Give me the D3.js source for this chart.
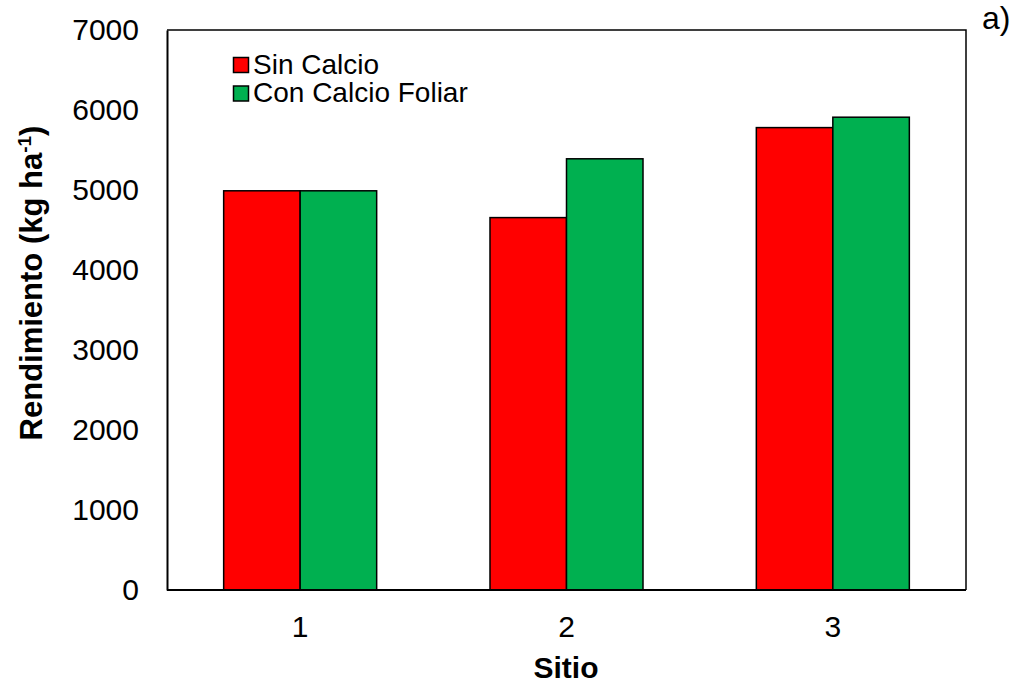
<!DOCTYPE html>
<html>
<head>
<meta charset="utf-8">
<script src="https://cdn.jsdelivr.net/npm/d3@7"></script>
<style>
  html, body { margin: 0; padding: 0; background: #ffffff; }
  svg { display: block; }
</style>
</head>
<body>
<svg id="chart" width="1017" height="685"></svg>
<script>
// ---- data ----
const sites = ["1", "2", "3"];
const seriesNames = ["Sin Calcio", "Con Calcio Foliar"];
const sinCalcio = [4990, 4655, 5780];
const conCalcio = [4990, 5390, 5910];
const yTicks = [0, 1000, 2000, 3000, 4000, 5000, 6000, 7000];
const seriesColors = ["#FF0000", "#00B050"];

const values = [sinCalcio, conCalcio];

const svg = d3.select("#chart");
const W = 1017, H = 685;
const plot = { left: 167, right: 966, top: 30, bottom: 590 };
const font = "'Liberation Sans', Arial, sans-serif";

const p = 0.4255;
const x0 = d3.scaleBand().domain(sites).range([plot.left, plot.right])
  .paddingInner(p).paddingOuter(p / 2);
const x1 = d3.scaleBand().domain(seriesNames).range([0, x0.bandwidth()]).padding(0);
const y = d3.scaleLinear().domain([0, 7000]).range([plot.bottom, plot.top]);

svg.append("rect").attr("width", W).attr("height", H).attr("fill", "#fff");

// bars
const groups = svg.append("g").selectAll("g")
  .data(sites).join("g")
  .attr("transform", d => `translate(${x0(d)},0)`);

groups.selectAll("rect")
  .data((d, i) => seriesNames.map((s, j) => ({ s, v: values[j][i], j })))
  .join("rect")
  .attr("x", d => x1(d.s))
  .attr("y", d => y(d.v))
  .attr("width", x1.bandwidth())
  .attr("height", d => y(0) - y(d.v))
  .attr("fill", d => seriesColors[d.j])
  .attr("stroke", "#000")
  .attr("stroke-width", 1.5);

// frame (top/right)
svg.append("path")
  .attr("d", `M${plot.left},${plot.top}H${plot.right}V${plot.bottom}`)
  .attr("fill", "none").attr("stroke", "#000").attr("stroke-width", 1.5);

// y axis
const yAxis = svg.append("g")
  .attr("transform", `translate(${plot.left},0)`)
  .call(d3.axisLeft(y).tickValues(yTicks).tickSize(0).tickPadding(28).tickFormat(d3.format("d")));
yAxis.select(".domain").attr("stroke", "#000").attr("stroke-width", 2);
yAxis.selectAll("text").attr("font-family", font).attr("font-size", 30).attr("fill", "#000");

// x axis
const xAxis = svg.append("g")
  .attr("transform", `translate(0,${plot.bottom})`)
  .call(d3.axisBottom(x0).tickSize(0).tickPadding(26).tickSizeOuter(0));
xAxis.select(".domain").attr("stroke", "#000").attr("stroke-width", 2)
  .attr("d", `M${plot.left},0H${plot.right}`);
xAxis.selectAll("text").attr("font-family", font).attr("font-size", 30).attr("fill", "#000");

// axis titles
svg.append("text")
  .attr("x", (plot.left + plot.right) / 2 - 0.5)
  .attr("y", 678)
  .attr("text-anchor", "middle")
  .attr("font-family", font).attr("font-size", 30).attr("font-weight", "bold")
  .text("Sitio");

const yt = svg.append("text")
  .attr("transform", `translate(42,${(118 + 448) / 2}) rotate(-90)`)
  .attr("text-anchor", "middle")
  .attr("font-family", font).attr("font-size", 31).attr("font-weight", "bold");
yt.append("tspan").text("Rendimiento (kg ha");
yt.append("tspan").attr("font-size", 19).attr("dy", -11).text("-1");
yt.append("tspan").attr("dy", 11).text(")");

// legend
const legend = svg.append("g");
seriesNames.forEach((s, j) => {
  const cy = 65 + j * 28.5;
  legend.append("rect")
    .attr("x", 233.5).attr("y", cy - 7.5).attr("width", 15).attr("height", 15)
    .attr("fill", seriesColors[j]).attr("stroke", "#000").attr("stroke-width", 1.5);
  legend.append("text")
    .attr("x", 253).attr("y", cy + 8.5)
    .attr("font-family", font).attr("font-size", 28).attr("fill", "#000")
    .text(s);
});

// panel label
svg.append("text")
  .attr("x", 982).attr("y", 29)
  .attr("font-family", font).attr("font-size", 32).attr("fill", "#000")
  .text("a)");
</script>
</body>
</html>
